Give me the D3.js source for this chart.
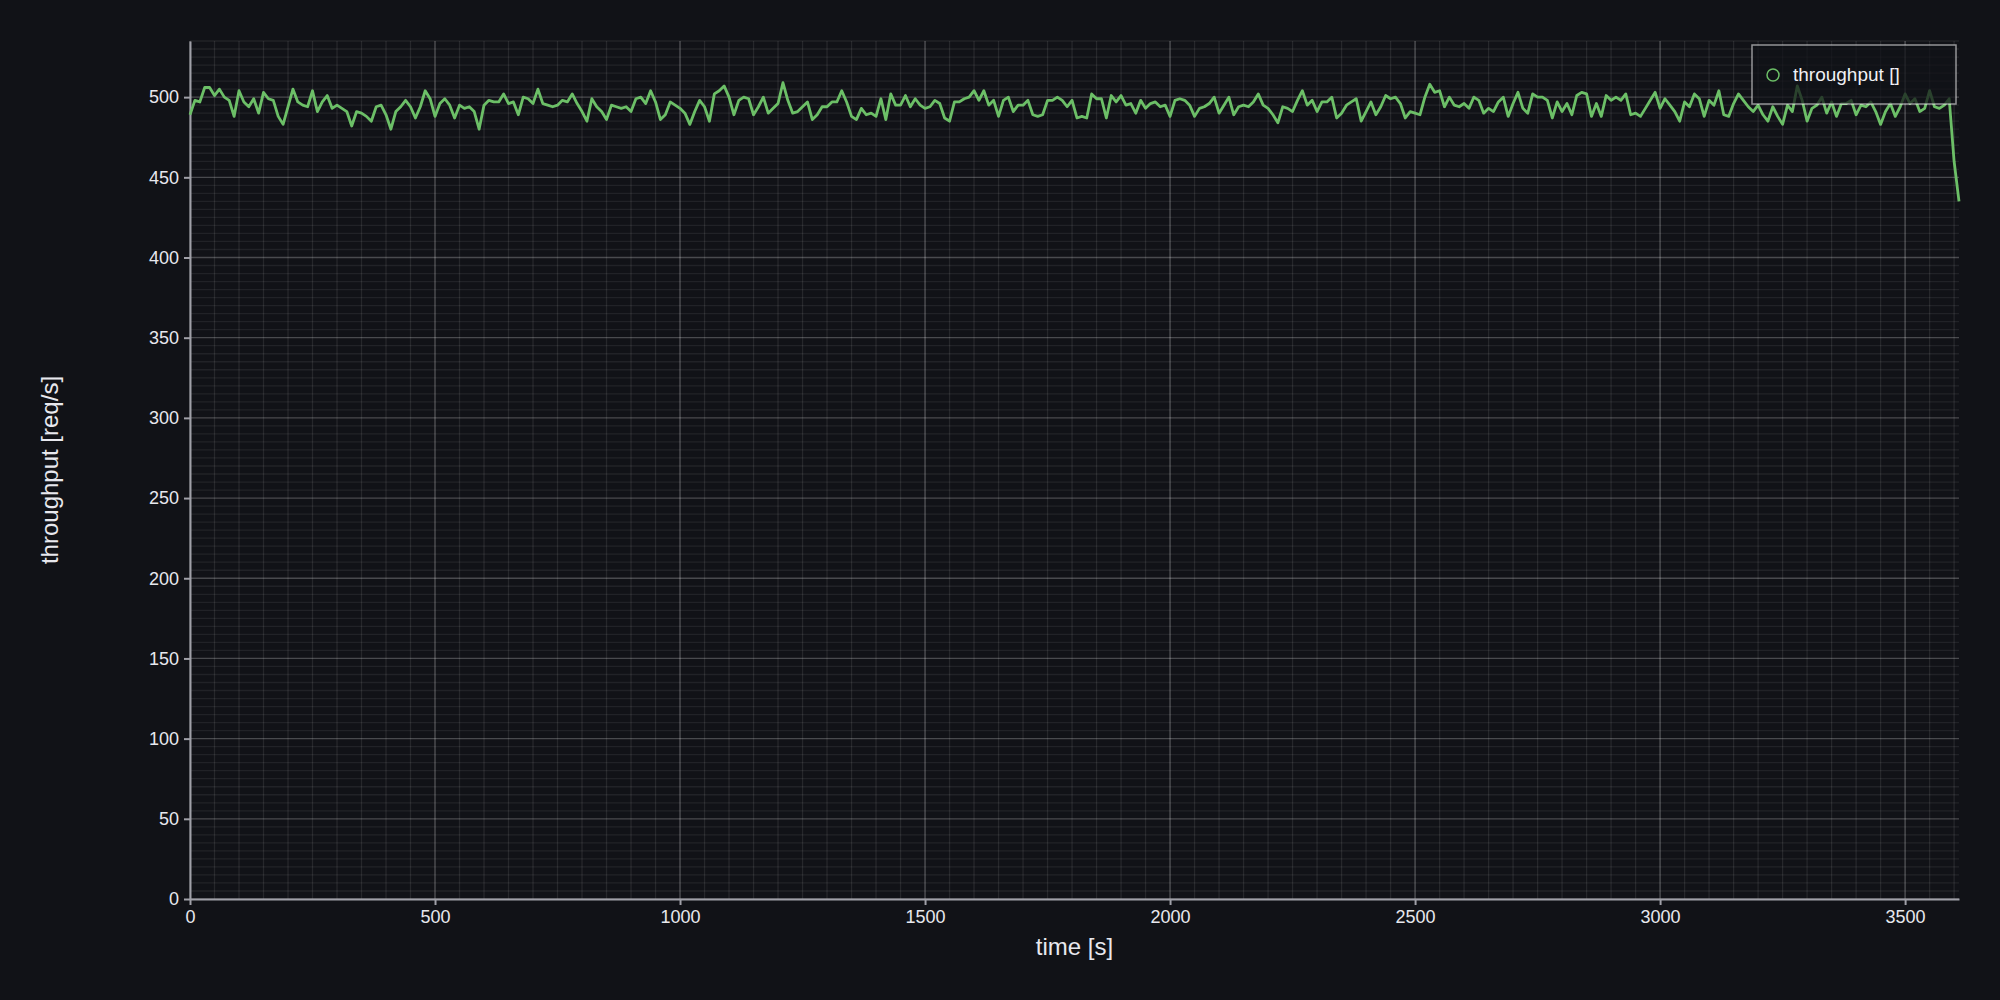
<!DOCTYPE html>
<html><head><meta charset="utf-8">
<script src="https://cdn.jsdelivr.net/npm/d3@7"></script>
<style>html,body{margin:0;background:#111217;}svg{display:block;font-family:"Liberation Sans",Arial,sans-serif;}</style>
</head><body><svg id="c" width="2000" height="1000"></svg>
<script>
const seriesName = "throughput []";
const xLabel = "time [s]";
const yLabel = "throughput [req/s]";
const endTime = 3610;
const xTicks = [0,500,1000,1500,2000,2500,3000,3500];
const yTicks = [0,50,100,150,200,250,300,350,400,450,500];
const throughput = [
489,498,497,506,506,501,505,500,498,488,504,497,494,499,490,503,499,498,488,483,494,505,497,495,494,504,491,497,501,493,495,493,491,482,491,490,488,485,494,495,489,480,491,494,498,494,487,494,504,499,488,496,499,495,487,495,493,494,491,480,495,498,497,497,502,496,497,489,500,499,496,505,496,495,
494,495,498,497,502,496,491,485,499,494,491,486,495,494,493,494,491,499,500,496,504,497,486,489,497,495,493,490,483,491,498,494,485,502,504,507,500,489,498,500,499,489,494,500,490,493,496,509,498,490,491,494,497,486,489,494,494,497,497,504,497,488,486,493,489,490,488,499,486,502,495,
495,501,494,499,495,493,494,498,496,487,485,497,497,499,500,504,498,504,495,498,488,498,500,491,495,495,498,489,488,489,498,498,500,498,494,498,487,488,487,502,499,499,487,501,497,501,495,496,490,498,493,496,497,494,495,488,498,499,498,495,488,493,494,496,500,490,495,500,489,494,495,
494,497,502,495,493,489,484,494,493,491,498,504,495,498,491,497,497,500,487,490,495,497,499,485,491,497,489,494,501,499,500,496,487,491,490,489,500,508,503,504,494,500,495,494,496,493,500,498,490,493,491,497,500,488,496,503,493,490,502,500,500,498,487,497,491,496,489,501,503,502,488,496,
488,501,498,500,498,502,489,490,488,493,498,503,493,499,495,491,485,497,494,502,499,488,498,495,504,489,488,496,502,498,494,491,495,489,485,494,488,483,495,491,507,498,485,493,495,500,490,497,488,496,496,498,489,495,494,497,491,483,491,496,488,494,502,496,499,491,493,504,494,493,495,499,460,435
];
const times = throughput.map((_, i) => i * endTime / (throughput.length - 1));

const svg = d3.select("#c");
const m = {l:190, r:1959, t:41, b:899};
const x = d3.scaleLinear().domain([0, endTime]).range([m.l, m.r]);
const y = d3.scaleLinear().domain([0, 535]).range([m.b, m.t]);

const g = svg.append("g");
g.selectAll(".vx").data(d3.range(0, endTime + 1, 50)).join("line")
  .attr("x1", d=>x(d)).attr("x2", d=>x(d)).attr("y1", m.t).attr("y2", m.b)
  .attr("stroke", d => d % 500 === 0 ? "rgba(255,255,255,0.28)" : "rgba(255,255,255,0.09)").attr("stroke-width", 1.3);
g.selectAll(".hy").data(d3.range(0, 536, 5)).join("line")
  .attr("y1", d=>y(d)).attr("y2", d=>y(d)).attr("x1", m.l).attr("x2", m.r)
  .attr("stroke", d => d % 50 === 0 ? "rgba(255,255,255,0.24)" : "rgba(255,255,255,0.07)").attr("stroke-width", 1.3);

const fmt = d3.format("d");
const ax = svg.append("g").attr("transform", `translate(0,${m.b})`)
  .call(d3.axisBottom(x).tickValues(xTicks).tickFormat(fmt).tickSize(6).tickPadding(5).tickSizeOuter(0));
const ay = svg.append("g").attr("transform", `translate(${m.l},0)`)
  .call(d3.axisLeft(y).tickValues(yTicks).tickFormat(fmt).tickSize(6).tickPadding(5).tickSizeOuter(0));
[ax, ay].forEach(a => {
  a.select(".domain").attr("stroke", "#a0a0a8").attr("stroke-width", 2);
  a.selectAll(".tick line").attr("stroke", "#a0a0a8").attr("stroke-width", 2);
  a.selectAll("text").attr("fill", "#e8e8ee").attr("font-size", 18);
});

svg.append("path").datum(throughput)
  .attr("fill", "none").attr("stroke", "#6cbf67").attr("stroke-width", 2.8).attr("stroke-linejoin", "round")
  .attr("d", d3.line().x((d,i)=>x(times[i])).y(d=>y(d)));

svg.append("text").attr("x", (m.l+m.r)/2).attr("y", 955).attr("text-anchor", "middle")
  .attr("fill", "#e8e8ee").attr("font-size", 24).text(xLabel);
svg.append("text").attr("transform", `translate(58,470) rotate(-90)`).attr("text-anchor", "middle")
  .attr("fill", "#e8e8ee").attr("font-size", 24).text(yLabel);

const lg = svg.append("g");
lg.append("rect").attr("x", 1752).attr("y", 45).attr("width", 204).attr("height", 59)
  .attr("fill", "rgba(17,18,23,0.72)").attr("stroke", "rgba(255,255,255,0.55)").attr("stroke-width", 1.5);
lg.append("circle").attr("cx", 1773).attr("cy", 75).attr("r", 6).attr("fill", "none").attr("stroke", "#6cbf67").attr("stroke-width", 1.5);
lg.append("text").attr("x", 1793).attr("y", 81).attr("fill", "#f0f0f4").attr("font-size", 19).text(seriesName);
</script></body></html>
